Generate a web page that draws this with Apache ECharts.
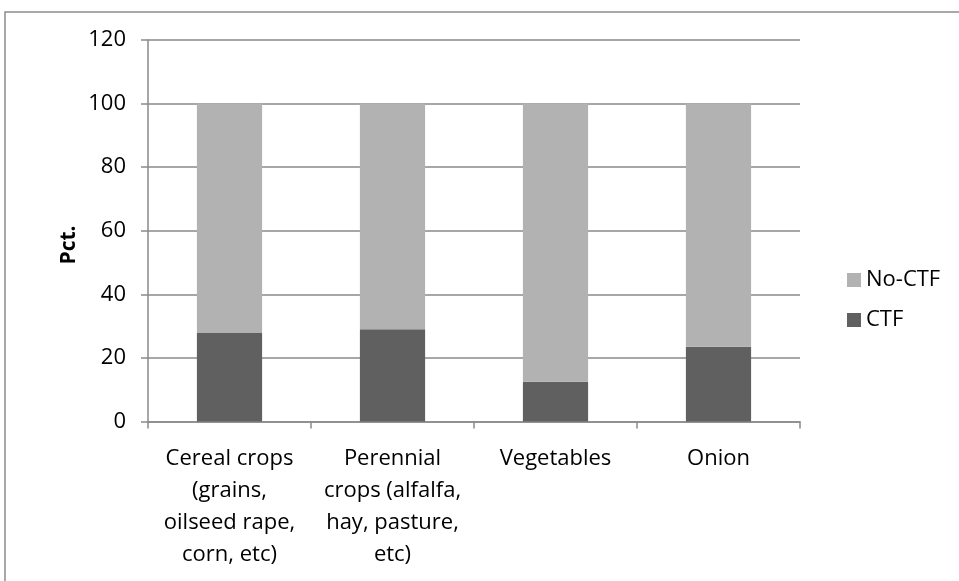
<!DOCTYPE html>
<html>
<head>
<meta charset="utf-8">
<script src="https://cdn.jsdelivr.net/npm/echarts@6/dist/echarts.min.js"></script>
<style>
  html, body { margin: 0; padding: 0; background: #fff; }
  #chart { width: 959px; height: 581px; }
</style>
</head>
<body>
<div id="chart"></div>
<script>
// crop categories, labels wrapped like the original
const categories = [
  'Cereal crops\n(grains,\noilseed rape,\ncorn, etc)',
  'Perennial\ncrops (alfalfa,\nhay, pasture,\netc)',
  'Vegetables',
  'Onion'
]
const ctf = [28, 29, 12.5, 23.5]
const noCtf = [72, 71, 87.5, 76.5]
const yTicks = [0, 20, 40, 60, 80, 100, 120]

const font = '"Open Sans", sans-serif'
const chart = echarts.init(document.getElementById('chart'), null, { renderer: 'canvas' })

var option = {
  backgroundColor: '#ffffff',
  animation: false,
  color: ['#606060', '#b2b2b2'],
  graphic: [{
    type: 'polyline',
    shape: { points: [[5, 581], [5, 12], [959, 12]] },
    style: { stroke: '#8c8c8c', lineWidth: 1.5, fill: null }
  }, {
    // y axis title, sits a little below the plot middle in the original
    type: 'text',
    x: 69,
    y: 245,
    rotation: Math.PI / 2,
    style: {
      text: 'Pct.',
      fontFamily: font,
      fontSize: 21,
      fontWeight: 'bold',
      fill: '#000',
      align: 'center',
      verticalAlign: 'middle'
    }
  }],
  legend: {
    orient: 'vertical',
    left: 842,
    top: 264,
    itemWidth: 14,
    itemHeight: 14,
    itemGap: 18,
    icon: 'rect',
    data: ['No-CTF', 'CTF'],
    textStyle: { fontFamily: font, fontSize: 22, color: '#000' }
  },
  grid: {
    left: 148,
    right: 159,
    top: 40,
    bottom: 159.5
  },
  xAxis: {
    type: 'category',
    data: categories,
    axisLine: { lineStyle: { color: '#8a8a8a', width: 1.5 } },
    axisTick: { show: true, length: 7, lineStyle: { color: '#8a8a8a', width: 1.5 } },
    axisLabel: {
      interval: 0,
      margin: 21,
      fontFamily: font,
      fontSize: 22,
      lineHeight: 32,
      color: '#000',
      align: 'center'
    }
  },
  yAxis: {
    type: 'value',
    min: yTicks[0],
    max: yTicks[yTicks.length - 1],
    interval: 20,
    axisLine: { show: true, lineStyle: { color: '#8a8a8a', width: 1.5 } },
    axisTick: { show: true, length: 7, lineStyle: { color: '#8a8a8a', width: 1.5 } },
    axisLabel: { fontFamily: font, fontSize: 22, color: '#000', margin: 22 },
    splitLine: { lineStyle: { color: '#8a8a8a', width: 1.5 } }
  },
  series: [{
    name: 'CTF',
    type: 'bar',
    stack: 'total',
    barWidth: '40%',
    data: ctf
  }, {
    name: 'No-CTF',
    type: 'bar',
    stack: 'total',
    barWidth: '40%',
    data: noCtf
  }]
}

chart.setOption(option)
</script>
</body>
</html>
